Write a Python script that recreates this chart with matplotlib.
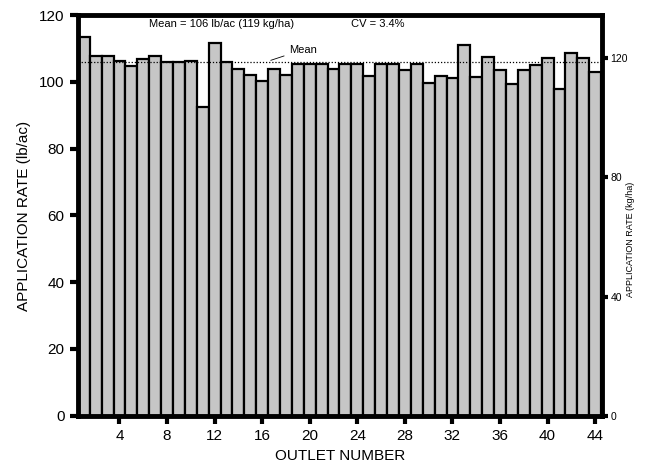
import numpy as np
import matplotlib.pyplot as plt

plt.rcParams['font.family'] = ['Liberation Sans', 'DejaVu Sans']

outlets = np.arange(1, 45)
rate = [113.6, 107.9, 107.9, 106.3, 104.8, 106.8, 107.8, 106.1, 106.1, 106.3,
        92.5, 111.6, 106.1, 103.9, 102.1, 100.2, 103.8, 102.1, 105.3, 105.3,
        105.3, 103.8, 105.3, 105.3, 101.9, 105.3, 105.3, 103.6, 105.3, 99.7,
        101.9, 101.3, 111.2, 101.6, 107.6, 103.6, 99.5, 103.6, 105.1, 107.1,
        97.8, 108.8, 107.1, 103.1]
mean_rate = 106
lb_to_kg = 1.12085

fig = plt.figure(figsize=(6.49, 4.73), dpi=100)
ax = fig.add_axes([0.12, 0.121, 0.808, 0.847])

ax.bar(outlets, rate, width=1.0, color="#c6c6c6", edgecolor="black", linewidth=1.6)
ax.axhline(mean_rate, color="black", linestyle=(0, (1, 1.5)), linewidth=0.9)

ax.set_xlim(0.5, 44.6)
ax.set_ylim(0, 120)
ax.set_xticks(np.arange(4, 45, 4))
ax.set_yticks(np.arange(0, 121, 20))
for s in ax.spines.values():
    s.set_linewidth(3.5)
ax.tick_params(axis="both", width=3, length=6, labelsize=11)
ax.set_xlabel("OUTLET NUMBER", fontsize=11, labelpad=4)
ax.set_ylabel("APPLICATION RATE (lb/ac)", fontsize=11, labelpad=6)

# right axis in kg/ha
sec = ax.secondary_yaxis("right", functions=(lambda x: x * lb_to_kg, lambda x: x / lb_to_kg))
sec.set_ticks([0, 40, 80, 120])
sec.tick_params(width=3, length=4, pad=2, labelsize=7.5)
sec.set_ylabel("APPLICATION RATE (kg/ha)", fontsize=6.5)
sec.yaxis.set_label_coords(1.045, 0.44, transform=ax.transAxes)

ax.text(6.5, 116.3, "Mean = 106 lb/ac (119 kg/ha)", fontsize=8)
ax.text(23.5, 116.3, "CV = 3.4%", fontsize=8)
ax.annotate("Mean", xy=(16.5, 106.2), xytext=(18.3, 108.8), fontsize=8,
            arrowprops=dict(arrowstyle="-", color="black", lw=0.6))

fig.savefig("out.png", dpi=100)
